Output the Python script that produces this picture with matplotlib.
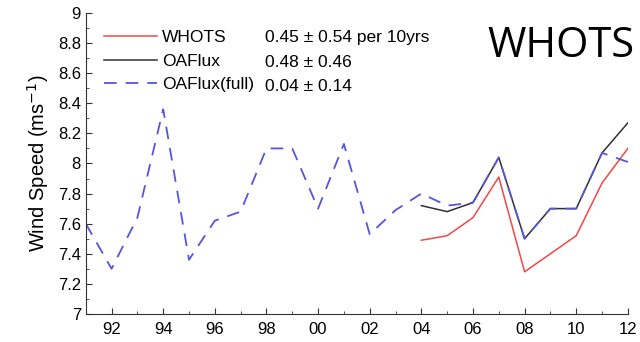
import matplotlib.pyplot as plt
import numpy as np

years_full = np.arange(1991, 2013)
oaflux_full = [7.60, 7.30, 7.64, 8.36, 7.36, 7.62, 7.68, 8.10, 8.10, 7.70, 8.13,
               7.53, 7.69, 7.80, 7.72, 7.74, 8.04, 7.50, 7.70, 7.70, 8.07, 8.01]

years_buoy = np.arange(2004, 2013)
whots = [7.49, 7.52, 7.64, 7.91, 7.28, 7.40, 7.52, 7.87, 8.10]
oaflux = [7.72, 7.68, 7.74, 8.04, 7.50, 7.70, 7.70, 8.07, 8.27]

names = ["WHOTS", "OAFlux", "OAFlux(full)"]
trends = ["0.45 \u00b1 0.54 per 10yrs", "0.48 \u00b1 0.46", "0.04 \u00b1 0.14"]

plt.rcParams['font.family'] = ['Liberation Sans', 'DejaVu Sans']

fig = plt.figure(figsize=(6.4, 3.42), dpi=100)
ax = fig.add_axes([0.134, 0.082, 0.847, 0.880])

l1, = ax.plot(years_buoy, whots, color='#f04848', lw=1.1)
l2, = ax.plot(years_buoy, oaflux, color='#303030', lw=1.1)
l3, = ax.plot(years_full, oaflux_full, color='#5555dd', lw=1.3, dashes=(7, 5))

ax.set_xlim(1991, 2012)
ax.set_ylim(7, 9)
ax.set_xticks(np.arange(1992, 2013, 2))
ax.set_xticklabels(["%02d" % (y % 100) for y in range(1992, 2013, 2)])
ax.set_xticks(np.arange(1991, 2013), minor=True)
ax.set_yticks(np.arange(7, 9.01, 0.2))
ax.set_yticklabels(["7", "7.2", "7.4", "7.6", "7.8", "8", "8.2", "8.4", "8.6", "8.8", "9"])
ax.set_yticks(np.arange(7, 9.01, 0.1), minor=True)
ax.tick_params(which='both', direction='in', labelsize=12, color='#333333')
ax.tick_params(which='major', length=4)
ax.tick_params(which='minor', length=2)
ax.tick_params(axis='x', pad=6)
for s in ['top', 'right']:
    ax.spines[s].set_visible(False)
for s in ['left', 'bottom']:
    ax.spines[s].set_color('#333333')
ax.set_ylabel("Wind Speed (ms$^{-1}$)", fontsize=14.5, labelpad=5)

# legend handles + names, trend numbers placed as a separate column
ax.legend([l1, l2, l3], names, loc='upper left', bbox_to_anchor=(0.012, 0.985),
          frameon=False, fontsize=12.5, handlelength=3.0, handletextpad=0.3,
          labelspacing=0.5, borderaxespad=0.3)
for i, t in enumerate(trends):
    ax.text(0.330, 0.918 - i * 0.081, t, transform=ax.transAxes, fontsize=12.5,
            va='center', ha='left')

fig.text(0.877, 0.866, "WHOTS", fontsize=30, family=['Open Sans', 'DejaVu Sans'],
         ha='center', va='center')

fig.savefig("out.png", dpi=100)
